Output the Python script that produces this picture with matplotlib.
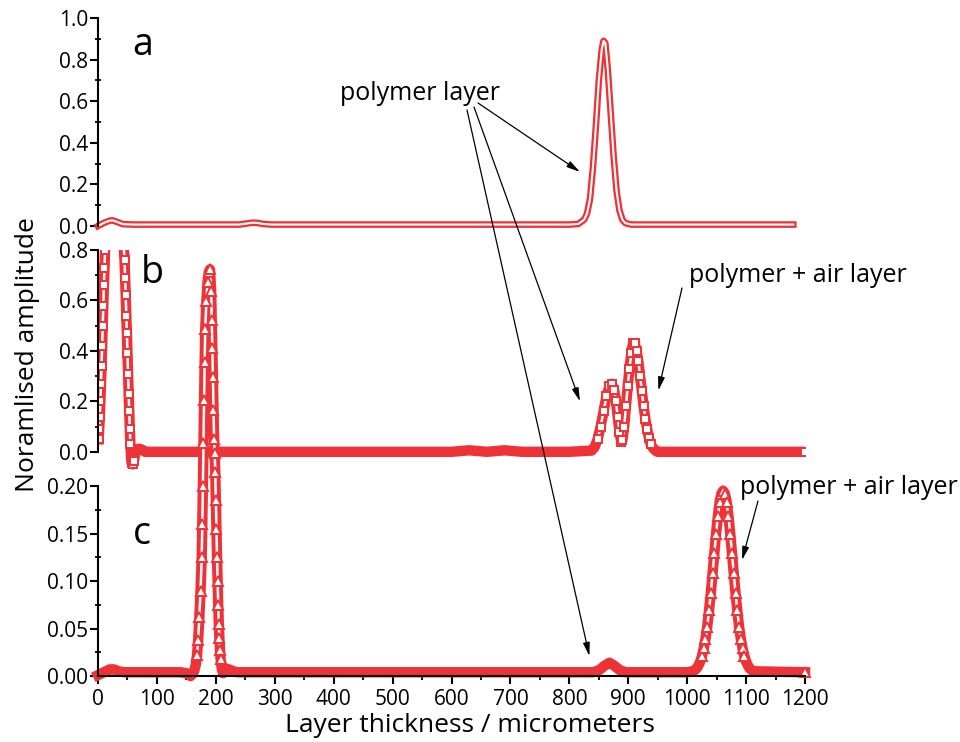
import numpy as np
import matplotlib.pyplot as plt
from matplotlib.ticker import FormatStrFormatter

plt.rcParams['font.family'] = ['Open Sans', 'DejaVu Sans']

RED = '#ee3338'

# layer thickness (micrometers) vs normalised amplitude, one trace per panel
a_x = [0, 10, 20, 25, 32, 42, 60, 150, 240, 252, 262, 270, 280, 295, 500, 700, 800,
       815, 825, 830, 835, 840, 845, 850, 855, 858, 861, 865, 870, 875, 880, 885,
       890, 895, 905, 1000, 1180]
a_y = [0.0, 0.015, 0.026, 0.027, 0.02, 0.009, 0.007, 0.007, 0.007, 0.012, 0.016,
       0.015, 0.01, 0.007, 0.007, 0.007, 0.007, 0.01, 0.03, 0.06, 0.13, 0.28, 0.48,
       0.70, 0.85, 0.89, 0.88, 0.76, 0.55, 0.34, 0.17, 0.075, 0.03, 0.014, 0.007,
       0.007, 0.007]

b_x = [1, 2, 3, 4, 5, 6, 7, 8, 9, 10, 11, 12, 14, 18, 24, 30, 36, 40, 43, 45, 46,
       47, 48, 49, 50, 51, 52, 53, 54, 55, 56, 57, 59, 61, 63, 66, 70, 75, 80, 100,
       300, 600, 630, 660, 690, 720, 800, 838, 843, 848, 853, 858, 863, 868, 872,
       876, 879, 882, 885, 888, 890, 893, 896, 899, 902, 905, 908, 911, 914, 917,
       920, 923, 926, 929, 932, 935, 938, 942, 946, 950, 1000, 1200]
b_y = [0.05, 0.09, 0.14, 0.2, 0.27, 0.34, 0.42, 0.5, 0.58, 0.66, 0.73, 0.8, 0.95,
       1.15, 1.3, 1.3, 1.15, 0.98, 0.84, 0.76, 0.69, 0.62, 0.54, 0.47, 0.39, 0.31,
       0.23, 0.16, 0.09, 0.03, -0.02, -0.045, -0.05, -0.035, -0.01, 0.01, 0.012,
       0.008, 0.0, 0.0, 0.0, 0.0, 0.006, 0.0, 0.006, 0.0, 0.0, 0.005, 0.02, 0.05,
       0.1, 0.16, 0.22, 0.26, 0.27, 0.245, 0.2, 0.14, 0.08, 0.04, 0.045, 0.1, 0.18,
       0.26, 0.33, 0.39, 0.43, 0.43, 0.4, 0.36, 0.3, 0.24, 0.18, 0.13, 0.09, 0.055,
       0.03, 0.015, 0.005, 0.0, 0.0, 0.0]

c_x = [0, 10, 20, 27, 35, 45, 60, 100, 140, 150, 157, 160, 163, 166, 168, 170, 172,
       174, 176, 177, 178, 179, 180, 181, 182, 184, 186, 188, 190, 192, 193, 194,
       195, 196, 197, 198, 199, 200, 201, 202, 203, 204, 205, 206, 207, 208, 210,
       212, 216, 222, 235, 300, 840, 850, 860, 868, 876, 886, 896, 1000, 1010,
       1016, 1019, 1022, 1025, 1028, 1031, 1034, 1037, 1040, 1043, 1046, 1049,
       1052, 1055, 1058, 1061, 1064, 1067, 1070, 1073, 1076, 1079, 1082, 1085,
       1088, 1091, 1094, 1097, 1100, 1103, 1106, 1112, 1200]
c_y = [0.001, 0.004, 0.007, 0.007, 0.005, 0.004, 0.004, 0.004, 0.004, 0.003, 0.0,
       0.002, 0.005, 0.012, 0.022, 0.038, 0.062, 0.09, 0.125, 0.16, 0.2, 0.245,
       0.29, 0.33, 0.365, 0.395, 0.415, 0.425, 0.428, 0.405, 0.375, 0.345, 0.315,
       0.28, 0.25, 0.235, 0.215, 0.185, 0.155, 0.125, 0.1, 0.075, 0.055, 0.04,
       0.027, 0.018, 0.008, 0.003, 0.008, 0.007, 0.004, 0.004, 0.004, 0.006, 0.011,
       0.014, 0.011, 0.006, 0.004, 0.004, 0.005,
       0.008, 0.011, 0.015, 0.021, 0.029, 0.039, 0.052, 0.069, 0.087, 0.108, 0.129,
       0.150, 0.168, 0.183, 0.192, 0.195, 0.192, 0.183, 0.168, 0.150, 0.129, 0.108,
       0.087, 0.069, 0.052, 0.039, 0.029, 0.021, 0.015, 0.011, 0.008, 0.005, 0.004]

x_ticks = [0, 100, 200, 300, 400, 500, 600, 700, 800, 900, 1000, 1100, 1200]
x_minor = [50, 150, 250, 350, 450, 550, 650, 750, 850, 950, 1050, 1150]
a_ticks = [0.0, 0.2, 0.4, 0.6, 0.8, 1.0]
a_minor = [0.1, 0.3, 0.5, 0.7, 0.9]
b_ticks = [0.0, 0.2, 0.4, 0.6, 0.8]
b_minor = [0.1, 0.3, 0.5, 0.7]
c_ticks = [0.00, 0.05, 0.10, 0.15, 0.20]
c_minor = [0.025, 0.075, 0.125, 0.175]

fig = plt.figure(figsize=(9.6, 7.42), dpi=100)
left, width = 0.1021, 0.7365
ax_a = fig.add_axes([left, 0.6954, width, 0.2803])
ax_b = fig.add_axes([left, 0.3571, width, 0.3059])
ax_c = fig.add_axes([left, 0.0889, width, 0.2561])


def style_axis(ax, ylim, ticks, minor, fmt):
    ax.patch.set_alpha(0)
    ax.set_xlim(0, 1200)
    ax.set_ylim(*ylim)
    for s in ('top', 'right', 'bottom'):
        ax.spines[s].set_visible(False)
    ax.spines['left'].set_linewidth(1.5)
    ax.spines['left'].set_bounds(ticks[0], ticks[-1])
    ax.set_yticks(ticks)
    ax.set_yticks(minor, minor=True)
    ax.yaxis.set_major_formatter(FormatStrFormatter(fmt))
    ax.tick_params(axis='y', which='major', direction='out', length=6,
                   width=1.5, labelsize=15, pad=1)
    ax.tick_params(axis='y', which='minor', direction='inout', length=4,
                   width=1.3)
    ax.set_xticks([])


def hollow_trace(ax, x, y, marker, ms, thresh, clip):
    x = np.asarray(x, float)
    y = np.asarray(y, float)
    show = np.abs(y) > thresh
    show[-1] = True
    core = np.where(show, y, np.nan)
    ax.plot(x, y, color=RED, lw=7.5, solid_joinstyle='round', clip_on=clip)
    ax.plot(x, core, color='white', lw=1.8, clip_on=clip)
    ax.plot(x[show], y[show], ls='none', marker=marker, ms=ms, mfc='white',
            mec=RED, mew=1.4, clip_on=clip)


# a: polymer layer only
ax_a.plot(a_x, a_y, color=RED, lw=4.8, clip_on=False)
ax_a.plot(a_x, a_y, color='white', lw=1.5, clip_on=False)
style_axis(ax_a, (0, 1.0), a_ticks, a_minor, '%.1f')

# b: square symbols, clipped at the top of the axis
hollow_trace(ax_b, b_x, b_y, 's', 6.2, 0.02, True)
style_axis(ax_b, (-0.1, 0.8), b_ticks, b_minor, '%.1f')

# c: triangle symbols, the 190 um peak runs up into panel b
hollow_trace(ax_c, c_x, c_y, '^', 7, 0.015, False)
style_axis(ax_c, (0, 0.2), c_ticks, c_minor, '%.2f')
ax_c.spines['bottom'].set_visible(True)
ax_c.spines['bottom'].set_linewidth(1.5)
ax_c.set_xticks(x_ticks)
ax_c.set_xticks(x_minor, minor=True)
ax_c.tick_params(axis='x', which='major', direction='out', length=6,
                 width=1.5, labelsize=15, pad=3)
ax_c.tick_params(axis='x', which='minor', direction='out', length=3,
                 width=1.3)

for ax, lab, lx, ly in [(ax_a, 'a', 75, 0.87), (ax_b, 'b', 92, 0.71),
                        (ax_c, 'c', 75, 0.15)]:
    ax.text(lx, ly, lab, fontsize=27, ha='center', va='center')

fig.text(28 / 960, 1 - 355 / 742, 'Noramlised amplitude', rotation=90,
         fontsize=19, ha='center', va='center')
fig.text(470 / 960, 1 - 726 / 742, 'Layer thickness / micrometers',
         fontsize=19, ha='center', va='center')

arrow = dict(arrowstyle='-|>,head_length=0.8,head_width=0.2', color='black',
             lw=0.9, shrinkA=0, shrinkB=0)


def fig_xy(px, py):
    return (px / 960, 1 - py / 742)


fig.text(*fig_xy(420, 93), 'polymer layer', fontsize=18, ha='center', va='center')
ax_a.annotate('', xy=(818, 0.26), xytext=fig_xy(478, 103),
              textcoords='figure fraction', arrowprops=arrow, annotation_clip=False)
ax_b.annotate('', xy=(818, 0.2), xytext=fig_xy(474, 107),
              textcoords='figure fraction', arrowprops=arrow, annotation_clip=False)
ax_c.annotate('', xy=(834, 0.021), xytext=fig_xy(467, 110),
              textcoords='figure fraction', arrowprops=arrow, annotation_clip=False)

fig.text(*fig_xy(798, 275), 'polymer + air layer', fontsize=18, ha='center',
         va='center')
ax_b.annotate('', xy=(951, 0.243), xytext=fig_xy(682, 288),
              textcoords='figure fraction', arrowprops=arrow, annotation_clip=False)

fig.text(*fig_xy(849, 487), 'polymer + air layer', fontsize=18, ha='center',
         va='center')
ax_c.annotate('', xy=(1093, 0.122), xytext=fig_xy(758, 501),
              textcoords='figure fraction', arrowprops=arrow, annotation_clip=False)

fig.savefig('out.png', dpi=100)
